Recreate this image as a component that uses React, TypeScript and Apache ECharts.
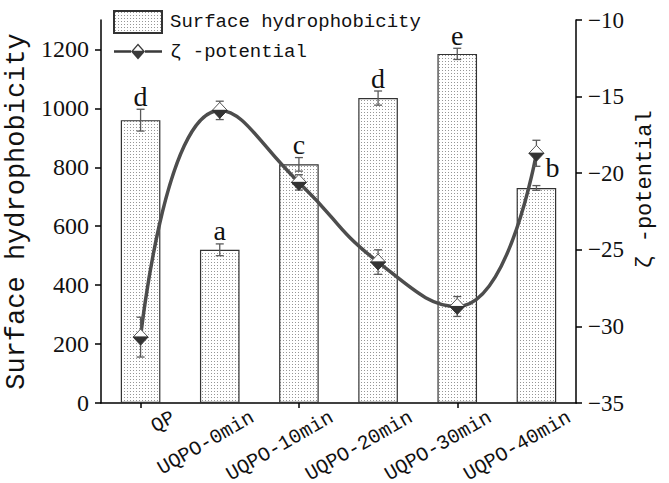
import React, { useEffect, useRef } from 'react';
import * as echarts from 'echarts';

const categories = ['QP', 'UQPO-0min', 'UQPO-10min', 'UQPO-20min', 'UQPO-30min', 'UQPO-40min'];
const hydrophobicity = [960, 520, 810, 1035, 1185, 730];
const hydrophobicityErr = [37, 20, 23, 24, 19, 8];
const letters = ['d', 'a', 'c', 'd', 'e', 'b'];
const zetaPotential = [-30.7, -15.9, -20.6, -25.8, -28.7, -18.7];
const zetaErr = [1.3, 0.6, 0.5, 0.8, 0.65, 0.85];
const leftTicks = [0, 200, 400, 600, 800, 1000, 1200];

const SERIF = '"Liberation Serif", "Times New Roman", serif';
const MONO = '"Liberation Mono", "DejaVu Sans Mono", monospace';

const LINE_ICON =
  'path://M0,6.8L17,6.8L17,9.2L0,9.2Z M31,6.8L48,6.8L48,9.2L31,9.2Z M17,8L31,8L24,16Z M17,8L24,0L31,8Z M19.4,7.3L28.6,7.3L24,2Z';

export default function App() {
  const ref = useRef<HTMLDivElement>(null);

  useEffect(() => {
    const chart = echarts.init(ref.current!, null, { renderer: 'svg' });

    const canvas = document.createElement('canvas');
    canvas.width = 3;
    canvas.height = 3;
    const ctx = canvas.getContext('2d')!;
    ctx.fillStyle = '#ffffff';
    ctx.fillRect(0, 0, 3, 3);
    ctx.fillStyle = '#969696';
    ctx.fillRect(1, 1, 1, 1);
    const pattern: any = { image: canvas, repeat: 'repeat', imageWidth: 3, imageHeight: 3 };

    const axisLineStyle = { color: '#000', width: 1.5 };
    const labelShift = 33;

    const option: any = {
      animation: false,
      backgroundColor: '#fff',
      grid: [
        { left: 101, right: 93, top: 20, bottom: 80, containLabel: false, outerBoundsMode: 'none' },
        {
          left: 101 + labelShift,
          right: 93 - labelShift,
          top: 20,
          bottom: 80,
          containLabel: false,
          outerBoundsMode: 'none',
        },
      ],
      legend: {
        orient: 'vertical',
        left: 108,
        top: 5,
        itemWidth: 48,
        itemHeight: 22,
        itemGap: 8,
        textStyle: { fontFamily: MONO, fontSize: 19, color: '#111', padding: [0, 0, 0, 3] },
        data: [
          { name: 'Surface hydrophobicity', icon: 'rect' },
          { name: 'ζ -potential', icon: LINE_ICON, itemStyle: { borderWidth: 0, color: '#3a3a3a' } },
        ],
      },
      xAxis: [
        {
          type: 'category',
          gridIndex: 0,
          data: categories,
          boundaryGap: true,
          axisLine: { show: true, lineStyle: axisLineStyle },
          axisTick: { show: true, alignWithLabel: true, length: 5, lineStyle: { color: '#000', width: 1.5 } },
          axisLabel: { show: false },
          splitLine: { show: false },
        },
        {
          type: 'category',
          gridIndex: 1,
          data: categories,
          boundaryGap: true,
          axisLine: { show: false },
          axisTick: { show: false },
          axisLabel: {
            interval: 0,
            rotate: 30,
            margin: 13,
            fontFamily: MONO,
            fontSize: 20,
            color: '#111',
          },
          splitLine: { show: false },
        },
      ],
      yAxis: [
        {
          type: 'value',
          gridIndex: 0,
          min: 0,
          max: 1300,
          interval: 100,
          position: 'left',
          name: 'Surface hydrophobicity',
          nameLocation: 'middle',
          nameGap: 70,
          nameTextStyle: { fontFamily: MONO, fontSize: 27, color: '#111' },
          axisLine: { show: true, lineStyle: axisLineStyle },
          axisTick: { show: true, length: 6, customValues: leftTicks, lineStyle: { color: '#000', width: 1.5 } },
          axisLabel: {
            customValues: leftTicks,
            margin: 12,
            fontFamily: SERIF,
            fontSize: 24,
            color: '#111',
            formatter: (v: number) => String(v),
          },
          splitLine: { show: false },
        },
        {
          type: 'value',
          gridIndex: 0,
          min: -35,
          max: -10,
          interval: 5,
          position: 'right',
          name: 'ζ -potential',
          nameLocation: 'middle',
          nameGap: 56,
          nameTextStyle: { fontFamily: MONO, fontSize: 22, color: '#111', padding: [0, 0, 0, 44] },
          axisLine: { show: true, lineStyle: axisLineStyle },
          axisTick: { show: true, length: 6, lineStyle: { color: '#000', width: 1.5 } },
          axisLabel: {
            margin: 12,
            fontFamily: SERIF,
            fontSize: 23,
            color: '#111',
            formatter: (v: number) => String(v).replace('-', '\u2212'),
          },
          splitLine: { show: false },
        },
        {
          type: 'value',
          gridIndex: 1,
          min: 0,
          max: 1,
          show: false,
        },
      ],
      series: [
        {
          name: 'Surface hydrophobicity',
          type: 'bar',
          xAxisIndex: 0,
          yAxisIndex: 0,
          data: hydrophobicity,
          barWidth: '50%',
          itemStyle: { color: pattern, borderColor: '#333', borderWidth: 1.2 },
          z: 2,
        },
        {
          type: 'custom',
          xAxisIndex: 0,
          yAxisIndex: 0,
          z: 3,
          silent: true,
          data: hydrophobicity.map((v, i) => [i, v, hydrophobicityErr[i]]),
          encode: { x: 0, y: 1 },
          renderItem: (params: any, api: any) => {
            const i = params.dataIndex;
            const x = api.value(0);
            const v = api.value(1);
            const e = api.value(2);
            const top = api.coord([x, v + e]);
            const bot = api.coord([x, v - e]);
            const cap = 4;
            const st = { stroke: '#5a5a5a', lineWidth: 1.3 };
            const isSide = i === letters.length - 1;
            const base = api.coord([x, v]);
            return {
              type: 'group',
              children: [
                { type: 'line', shape: { x1: top[0], y1: top[1], x2: bot[0], y2: bot[1] }, style: st },
                { type: 'line', shape: { x1: top[0] - cap, y1: top[1], x2: top[0] + cap, y2: top[1] }, style: st },
                { type: 'line', shape: { x1: bot[0] - cap, y1: bot[1], x2: bot[0] + cap, y2: bot[1] }, style: st },
                {
                  type: 'text',
                  x: isSide ? base[0] + 16 : top[0],
                  y: isSide ? base[1] - 6 : top[1] + 1,
                  style: {
                    text: letters[i],
                    fill: '#111',
                    fontFamily: SERIF,
                    fontSize: 28,
                    align: 'center',
                    verticalAlign: 'bottom',
                  },
                },
              ],
            };
          },
        },
        {
          name: 'ζ -potential',
          type: 'line',
          xAxisIndex: 0,
          yAxisIndex: 1,
          data: zetaPotential,
          smooth: 0.5,
          symbol: 'none',
          lineStyle: { color: '#4d4d4d', width: 3.5 },
          itemStyle: { color: '#3a3a3a' },
          z: 4,
        },
        {
          type: 'custom',
          xAxisIndex: 0,
          yAxisIndex: 1,
          z: 5,
          silent: true,
          data: zetaPotential.map((v, i) => [i, v, zetaErr[i]]),
          encode: { x: 0, y: 1 },
          renderItem: (params: any, api: any) => {
            const x = api.value(0);
            const v = api.value(1);
            const e = api.value(2);
            const c = api.coord([x, v]);
            const top = api.coord([x, v + e]);
            const bot = api.coord([x, v - e]);
            const cap = 4;
            const st = { stroke: '#5a5a5a', lineWidth: 1.3 };
            const hw = 7.5;
            const hh = 8;
            return {
              type: 'group',
              children: [
                { type: 'line', shape: { x1: top[0], y1: top[1], x2: bot[0], y2: bot[1] }, style: st },
                { type: 'line', shape: { x1: top[0] - cap, y1: top[1], x2: top[0] + cap, y2: top[1] }, style: st },
                { type: 'line', shape: { x1: bot[0] - cap, y1: bot[1], x2: bot[0] + cap, y2: bot[1] }, style: st },
                {
                  type: 'polygon',
                  shape: { points: [[c[0] - hw, c[1]], [c[0], c[1] - hh], [c[0] + hw, c[1]]] },
                  style: { fill: '#fff', stroke: '#555', lineWidth: 1 },
                },
                {
                  type: 'polygon',
                  shape: { points: [[c[0] - hw, c[1]], [c[0] + hw, c[1]], [c[0], c[1] + hh]] },
                  style: { fill: '#333', stroke: '#333', lineWidth: 1 },
                },
              ],
            };
          },
        },
      ],
    };

    chart.setOption(option);
    return () => chart.dispose();
  }, []);

  return <div ref={ref} style={{ position: 'fixed', left: 0, top: 0, width: 669, height: 483 }} />;
}
